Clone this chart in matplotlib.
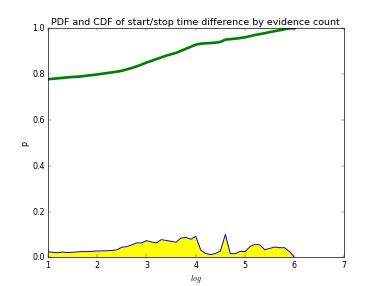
import matplotlib
matplotlib.use('Agg')
import matplotlib.pyplot as plt
import numpy as np

plt.style.use('classic')

# log bins, step 0.1 from 1 to 6
log_x = np.round(np.arange(1.0, 6.01, 0.1), 1)

pdf = [0.025, 0.022, 0.020, 0.023, 0.021, 0.022, 0.024, 0.025, 0.025, 0.026,
       0.028, 0.028, 0.029, 0.030, 0.033, 0.044, 0.047, 0.054, 0.063, 0.063,
       0.073, 0.067, 0.063, 0.077, 0.074, 0.070, 0.066, 0.084, 0.087, 0.079,
       0.092, 0.032, 0.017, 0.012, 0.017, 0.028, 0.100, 0.016, 0.016, 0.026,
       0.025, 0.047, 0.057, 0.054, 0.033, 0.039, 0.045, 0.042, 0.042, 0.025,
       0.000]

cdf = [0.777, 0.779, 0.781, 0.783, 0.785, 0.787, 0.788, 0.790, 0.793, 0.795,
       0.798, 0.801, 0.804, 0.807, 0.810, 0.814, 0.820, 0.826, 0.833, 0.841,
       0.850, 0.857, 0.865, 0.872, 0.880, 0.886, 0.892, 0.901, 0.910, 0.919,
       0.928, 0.932, 0.934, 0.935, 0.937, 0.940, 0.950, 0.952, 0.954, 0.957,
       0.960, 0.965, 0.970, 0.974, 0.978, 0.983, 0.987, 0.991, 0.995, 0.999,
       1.000]

fig = plt.figure(figsize=(8, 6), dpi=47.75)
ax = fig.add_subplot(111)
ax.fill_between(log_x, pdf, color='yellow', linewidth=0)
ax.plot(log_x, pdf, color='blue', linewidth=1.5)
ax.plot(log_x, cdf, color='green', linewidth=4)
ax.set_xlim(1, 7)
ax.set_ylim(0, 1)
ax.set_title('PDF and CDF of start/stop time difference by evidence count')
ax.set_xlabel('$log$')
ax.set_ylabel('p')

plt.savefig('out.png', dpi=47.75)
